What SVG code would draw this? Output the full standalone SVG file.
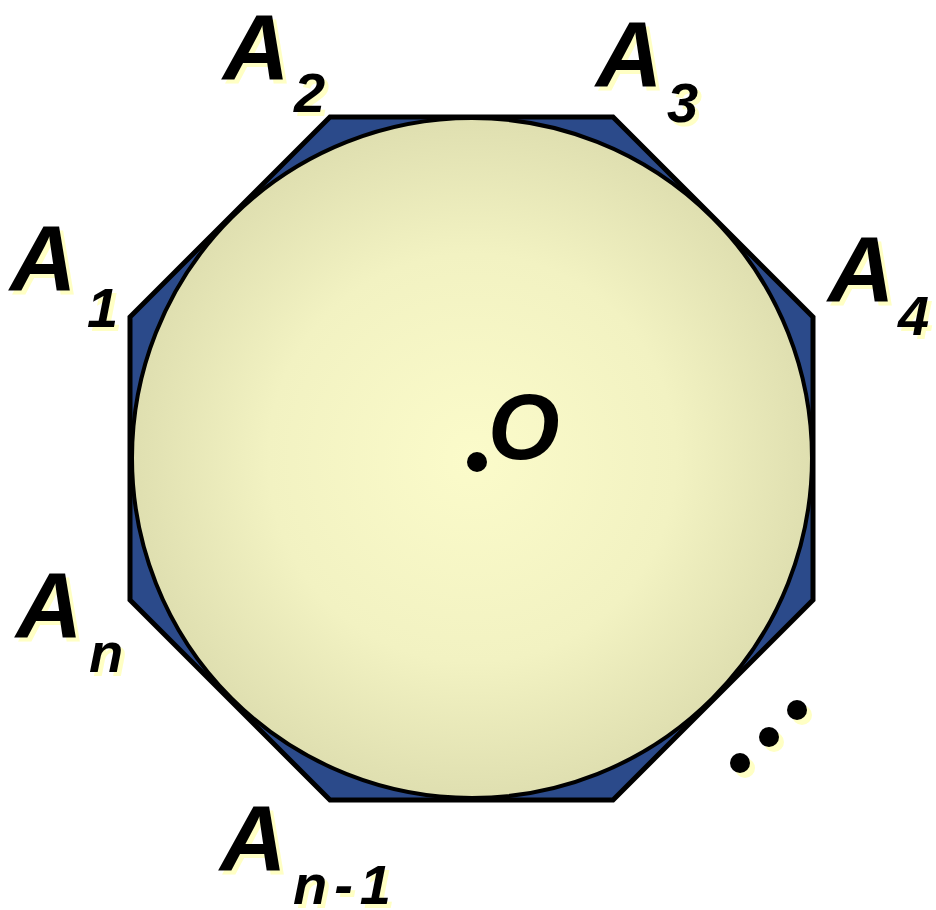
<svg xmlns="http://www.w3.org/2000/svg" width="936" height="910" viewBox="0 0 936 910">
<style>
.lbl{font-family:"Liberation Sans",Arial,sans-serif;font-weight:bold;font-style:italic;font-size:92px;}
.sub{font-size:56px;}
.sh{fill:#FFFFC4;}
.fg{fill:#000;}
</style>
<defs>
<radialGradient id="g" cx="472" cy="458" r="340" gradientUnits="userSpaceOnUse">
<stop offset="0" stop-color="#FBFBCA"/>
<stop offset="0.6" stop-color="#F2F2C2"/>
<stop offset="1" stop-color="#DFDFB0"/>
</radialGradient>
</defs>
<rect width="936" height="910" fill="#fff"/>
<g id="octagon">
<polygon points="330,117 613,117 813,317 813,600 613,800 330,800 130,600 130,317" fill="#2B4A8A" stroke="#000" stroke-width="5" stroke-linejoin="miter"/>
</g>
<g id="circle">
<circle cx="472" cy="458" r="340" fill="url(#g)" stroke="#000" stroke-width="4"/>
</g>
<g id="A2" class="lbl">
<g class="sh" transform="translate(4,4)"><text x="223" y="79">A</text><text class="sub" x="294" y="112">2</text></g>
<g class="fg"><text x="223" y="79">A</text><text class="sub" x="294" y="112">2</text></g>
</g>
<g id="A3" class="lbl">
<g class="sh" transform="translate(4,4)"><text x="596" y="86">A</text><text class="sub" x="667" y="122">3</text></g>
<g class="fg"><text x="596" y="86">A</text><text class="sub" x="667" y="122">3</text></g>
</g>
<g id="A1" class="lbl">
<g class="sh" transform="translate(4,4)"><text x="10" y="290">A</text><text class="sub" x="87" y="327">1</text></g>
<g class="fg"><text x="10" y="290">A</text><text class="sub" x="87" y="327">1</text></g>
</g>
<g id="A4" class="lbl">
<g class="sh" transform="translate(4,4)"><text x="828" y="301">A</text><text class="sub" x="898" y="335">4</text></g>
<g class="fg"><text x="828" y="301">A</text><text class="sub" x="898" y="335">4</text></g>
</g>
<g id="An" class="lbl">
<g class="sh" transform="translate(4,4)"><text x="16" y="637">A</text><text class="sub" x="89" y="672">n</text></g>
<g class="fg"><text x="16" y="637">A</text><text class="sub" x="89" y="672">n</text></g>
</g>
<g id="An-1" class="lbl">
<g class="sh" transform="translate(4,4)"><text x="220" y="870">A</text><text class="sub" x="293" y="904" letter-spacing="7">n-1</text></g>
<g class="fg"><text x="220" y="870">A</text><text class="sub" x="293" y="904" letter-spacing="7">n-1</text></g>
</g>
<g id="O">
<circle cx="477" cy="462" r="10" fill="#000"/>
<text class="lbl fg" x="488" y="459">O</text>
</g>
<g id="dots">
<circle cx="745" cy="768" r="10" fill="#FFFFC4"/>
<circle cx="774" cy="742" r="10" fill="#FFFFC4"/>
<circle cx="802" cy="715" r="10" fill="#FFFFC4"/>
<circle cx="740" cy="763" r="10" fill="#000"/>
<circle cx="769" cy="737" r="10" fill="#000"/>
<circle cx="797" cy="710" r="10" fill="#000"/>
</g>
</svg>
